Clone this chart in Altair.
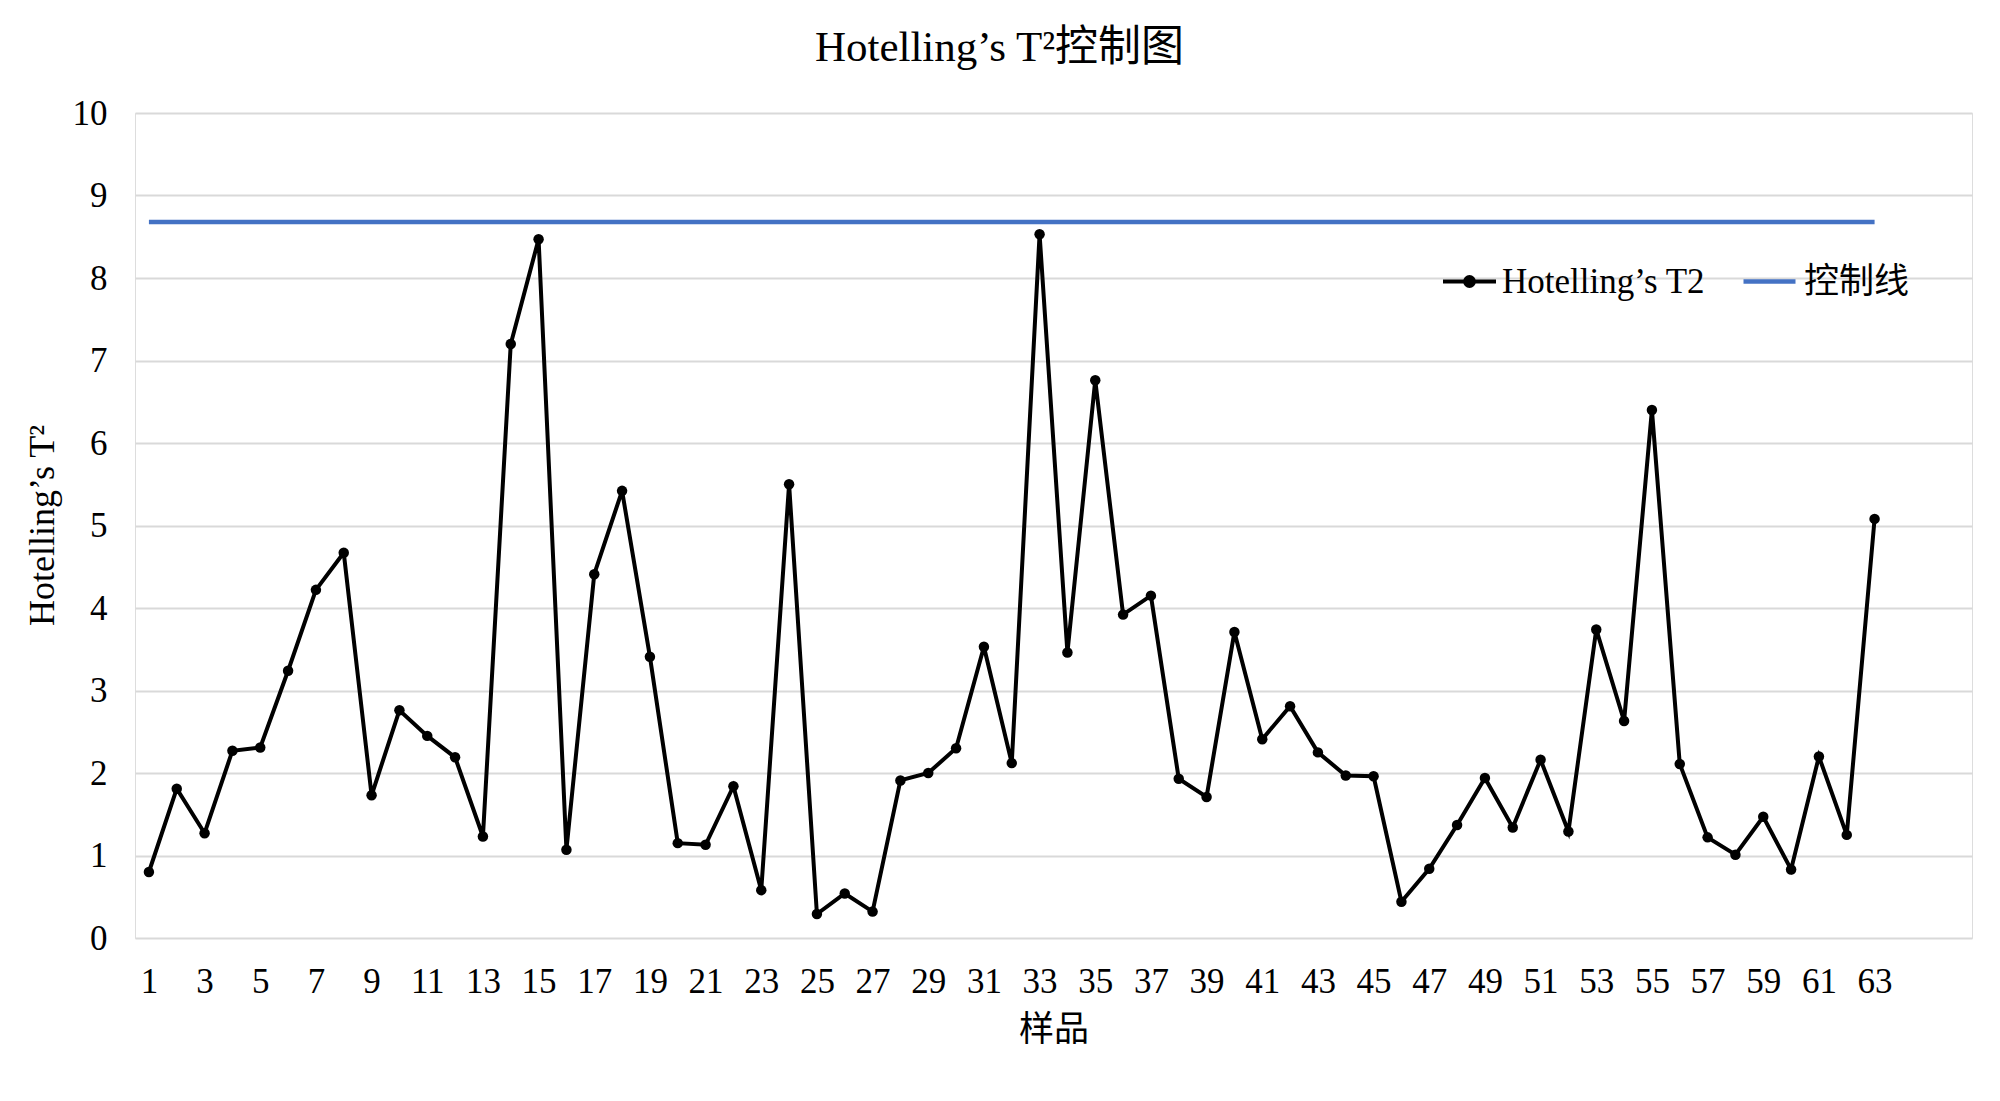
import altair as alt
import pandas as pd

samples = list(range(1, 64))
t2_values = [0.80, 1.81, 1.27, 2.27, 2.31, 3.24, 4.22, 4.67, 1.73, 2.76,
             2.45, 2.19, 1.23, 7.20, 8.47, 1.07, 4.41, 5.42, 3.41, 1.15,
             1.13, 1.84, 0.58, 5.50, 0.29, 0.54, 0.32, 1.91, 2.00, 2.30,
             3.53, 2.12, 8.53, 3.46, 6.76, 3.92, 4.15, 1.93, 1.71, 3.71,
             2.41, 2.81, 2.25, 1.97, 1.96, 0.44, 0.84, 1.37, 1.94, 1.34,
             2.16, 1.29, 3.74, 2.63, 6.40, 2.11, 1.22, 1.01, 1.47, 0.83,
             2.20, 1.25, 5.08]
control_limit = 8.68
x_tick_labels = list(range(1, 64, 2))
y_ticks = list(range(0, 11))
series_names = ["Hotelling’s T2", "控制线"]
series_colors = ["#000000", "#4472C4"]

df = pd.DataFrame({"样品": samples, "T2": t2_values, "series": series_names[0]})
ctrl = pd.DataFrame({"样品": samples, "UCL": [control_limit] * len(samples),
                     "series2": series_names[1]})

FONT = "Liberation Serif, Times New Roman, Noto Sans CJK SC"

x_enc = alt.X("样品:Q",
              scale=alt.Scale(domain=[0.5, 66.5], nice=False, zero=False),
              axis=alt.Axis(values=x_tick_labels, grid=False, domain=False,
                            ticks=False, tickSize=0, labelPadding=26,
                            labelFontSize=35, labelFont=FONT, labelColor="#000000",
                            title="样品", titleFontSize=35, titleFont=FONT,
                            titleFontWeight="normal", titleColor="#000000",
                            titleBaseline="alphabetic", titleY=102))

y_axis = alt.Axis(values=y_ticks, format="d", grid=True, gridColor="#d9d9d9", gridWidth=2,
                  domain=False, ticks=False, tickSize=0, labelPadding=28,
                  labelFontSize=35, labelFont=FONT, labelColor="#000000",
                  title="Hotelling’s T²", titleFontSize=36, titleFont=FONT,
                  titleFontWeight="normal", titleColor="#000000",
                  titleBaseline="alphabetic", titleAngle=270,
                  titleX=-82, titleY=412)

line_dot_path = ("M-1,0L1,0M-0.17,0a0.17,0.17 0 1,0 0.34,0"
                 "a0.17,0.17 0 1,0 -0.34,0Z")

color_enc = alt.Color("series:N",
                      scale=alt.Scale(domain=[series_names[0]], range=[series_colors[0]]),
                      legend=alt.Legend(title=None, orient="none", legendX=1306, legendY=140,
                                        symbolType=line_dot_path, symbolSize=2809,
                                        symbolStrokeWidth=3.8, symbolFillColor="#000000",
                                        symbolStrokeColor="#000000",
                                        labelFontSize=35, labelFont=FONT, labelLimit=0,
                                        labelColor="#000000", labelOffset=4, padding=0))

stroke_enc = alt.Stroke("series2:N",
                        scale=alt.Scale(domain=[series_names[1]], range=[series_colors[1]]),
                        legend=alt.Legend(title=None, orient="none", legendX=1606, legendY=140,
                                          symbolType="M-1,0L1,0", symbolSize=2704,
                                          symbolStrokeWidth=4.5, labelLimit=0,
                                          labelFontSize=35, labelFont=FONT,
                                          labelColor="#000000", labelOffset=6, padding=0))

base = alt.Chart(df)
t2_line = base.mark_line(strokeWidth=4).encode(
    x=x_enc,
    y=alt.Y("T2:Q", scale=alt.Scale(domain=[0, 10], nice=False), axis=y_axis),
    color=color_enc,
)
t2_points = base.mark_point(filled=True, size=110, opacity=1).encode(
    x="样品:Q", y="T2:Q", color=color_enc,
)
ctrl_line = alt.Chart(ctrl).mark_line(strokeWidth=4.5).encode(
    x="样品:Q", y="UCL:Q", stroke=stroke_enc,
)

chart = alt.layer(ctrl_line, t2_line, t2_points).properties(
    width=1837, height=825,
    title=alt.Title("Hotelling’s T²控制图", fontSize=43, font=FONT,
                    fontWeight="normal", color="#000000", anchor="middle",
                    baseline="alphabetic", offset=-8, dx=-54),
    padding={"left": 127, "top": 105, "right": 20, "bottom": 150},
    autosize=alt.AutoSizeParams(type="none"),
).configure_view(stroke=None).configure(background="#ffffff")

chart.save("out.html", embed_options={"renderer": "svg", "actions": False})
